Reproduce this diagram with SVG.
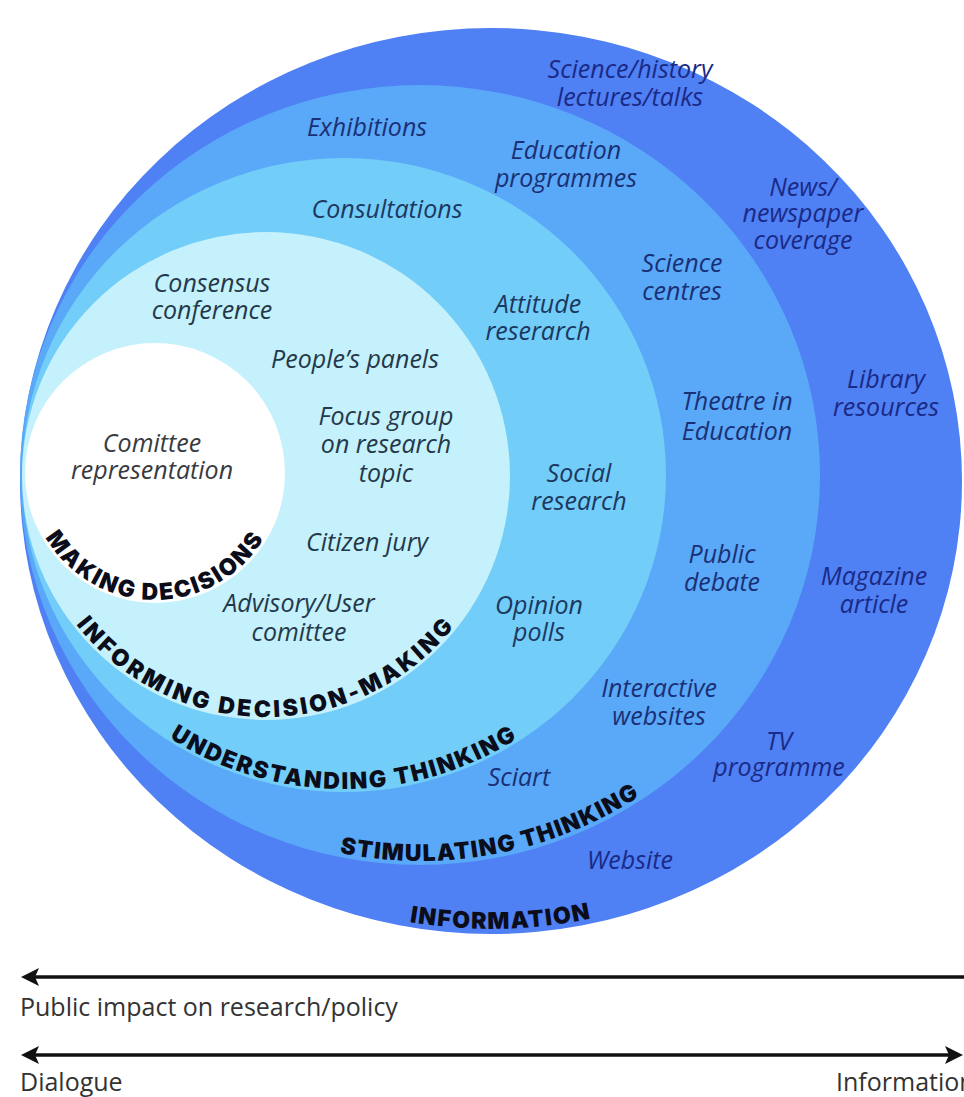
<svg xmlns="http://www.w3.org/2000/svg" width="964" height="1097" viewBox="0 0 964 1097">
<style>
.it{font-family:"Open Sans","Noto Sans",sans-serif;font-style:italic;font-size:25px;text-anchor:middle}
.c1{fill:#1a2a86}
.c2{fill:#1a3075}
.c3{fill:#1c3860}
.c4{fill:#25384a}
.c5{fill:#383b40}
.lb{font-family:"Inter","Lato",sans-serif;font-weight:900;font-size:23px;fill:#0b0d1a;text-anchor:middle}
.ax{font-family:"Open Sans","Noto Sans",sans-serif;font-size:25px;fill:#333}
.arr{stroke:#111;stroke-width:3.5;fill:none}
</style>
<defs>
<path id="p5" d="M28,473 A127,127 0 0 0 282,473"/>
<path id="p4" d="M25,476 A241,241 0 0 0 507,476"/>
<path id="p3" d="M25,475 A319,314 0 0 0 663,475"/>
<path id="p2" d="M24,475 A396,386 0 0 0 816,475"/>
<path id="p1" d="M25,481 A466,448 0 0 0 957,481"/>
<marker id="ah" markerUnits="userSpaceOnUse" markerWidth="22" markerHeight="22" viewBox="0 0 22 22" refX="12" refY="11" orient="auto-start-reverse">
<path d="M0,2 L18,11 L0,20 L4,11 z" fill="#111"/>
</marker>
</defs>

<g id="ring-information">
<ellipse cx="491" cy="481" rx="471" ry="453" fill="#4f80f4"/>
<text class="lb" letter-spacing="1.5"><textPath href="#p1" startOffset="50.7%">INFORMATION</textPath></text>
</g>
<g id="ring-stimulating">
<ellipse cx="420" cy="475" rx="400" ry="390" fill="#5aa8f8"/>
<text class="lb" letter-spacing="1.5"><textPath href="#p2" startOffset="56.2%">STIMULATING THINKING</textPath></text>
</g>
<g id="ring-understanding">
<ellipse cx="344" cy="475" rx="322" ry="317" fill="#73cdf9"/>
<text class="lb" letter-spacing="2"><textPath href="#p3" startOffset="50%">UNDERSTANDING THINKING</textPath></text>
</g>
<g id="ring-informing">
<circle cx="266" cy="476" r="244" fill="#c4f1fb"/>
<text class="lb" letter-spacing="3"><textPath href="#p4" startOffset="50%">INFORMING DECISION-MAKING</textPath></text>
</g>
<g id="ring-making">
<circle cx="155" cy="473" r="130" fill="#ffffff"/>
<text class="lb" letter-spacing="2"><textPath href="#p5" startOffset="50%">MAKING DECISIONS</textPath></text>
</g>

<g id="item-science-talks"><text class="it c1" x="630" y="78">Science/history<tspan x="630" y="106">lectures/talks</tspan></text></g>
<g id="item-news"><text class="it c1" x="803" y="196">News/<tspan x="803" y="222">newspaper</tspan><tspan x="803" y="249">coverage</tspan></text></g>
<g id="item-library"><text class="it c1" x="886" y="388">Library<tspan x="886" y="416">resources</tspan></text></g>
<g id="item-magazine"><text class="it c1" x="874" y="585">Magazine<tspan x="874" y="613">article</tspan></text></g>
<g id="item-tv"><text class="it c1" x="779" y="750">TV<tspan x="779" y="776">programme</tspan></text></g>
<g id="item-website"><text class="it c1" x="630" y="869">Website</text></g>

<g id="item-exhibitions"><text class="it c2" x="367" y="136">Exhibitions</text></g>
<g id="item-education"><text class="it c2" x="566" y="159">Education<tspan x="566" y="187">programmes</tspan></text></g>
<g id="item-science-centres"><text class="it c2" x="682" y="272">Science<tspan x="682" y="300">centres</tspan></text></g>
<g id="item-theatre"><text class="it c2" x="737" y="410">Theatre in<tspan x="737" y="440">Education</tspan></text></g>
<g id="item-public-debate"><text class="it c2" x="722" y="563">Public<tspan x="722" y="591">debate</tspan></text></g>
<g id="item-interactive"><text class="it c2" x="659" y="697">Interactive<tspan x="659" y="725">websites</tspan></text></g>
<g id="item-sciart"><text class="it c2" x="519" y="786">Sciart</text></g>

<g id="item-consultations"><text class="it c3" x="387" y="218">Consultations</text></g>
<g id="item-attitude"><text class="it c3" x="538" y="313">Attitude<tspan x="538" y="340">reserarch</tspan></text></g>
<g id="item-social"><text class="it c3" x="579" y="482">Social<tspan x="579" y="510">research</tspan></text></g>
<g id="item-opinion"><text class="it c3" x="539" y="614">Opinion<tspan x="539" y="641">polls</tspan></text></g>

<g id="item-consensus"><text class="it c4" x="212" y="292">Consensus<tspan x="212" y="319">conference</tspan></text></g>
<g id="item-peoples-panels"><text class="it c4" x="355" y="368">People’s panels</text></g>
<g id="item-focus-group"><text class="it c4" x="386" y="425">Focus group<tspan x="386" y="453">on research</tspan><tspan x="386" y="482">topic</tspan></text></g>
<g id="item-citizen-jury"><text class="it c4" x="367" y="551">Citizen jury</text></g>
<g id="item-advisory"><text class="it c4" x="299" y="612">Advisory/User<tspan x="299" y="641">comittee</tspan></text></g>

<g id="item-committee"><text class="it c5" x="152" y="452">Comittee<tspan x="152" y="479">representation</tspan></text></g>

<g id="connectors">
<path class="arr" d="M964,977 H27" marker-end="url(#ah)"/>
<path class="arr" d="M27,1055 H957" marker-start="url(#ah)" marker-end="url(#ah)"/>
</g>

<g id="axis-labels">
<text class="ax" x="20" y="1016">Public impact on research/policy</text>
<text class="ax" x="20" y="1091">Dialogue</text>
<text class="ax" x="836" y="1091">Information</text>
</g>
</svg>
